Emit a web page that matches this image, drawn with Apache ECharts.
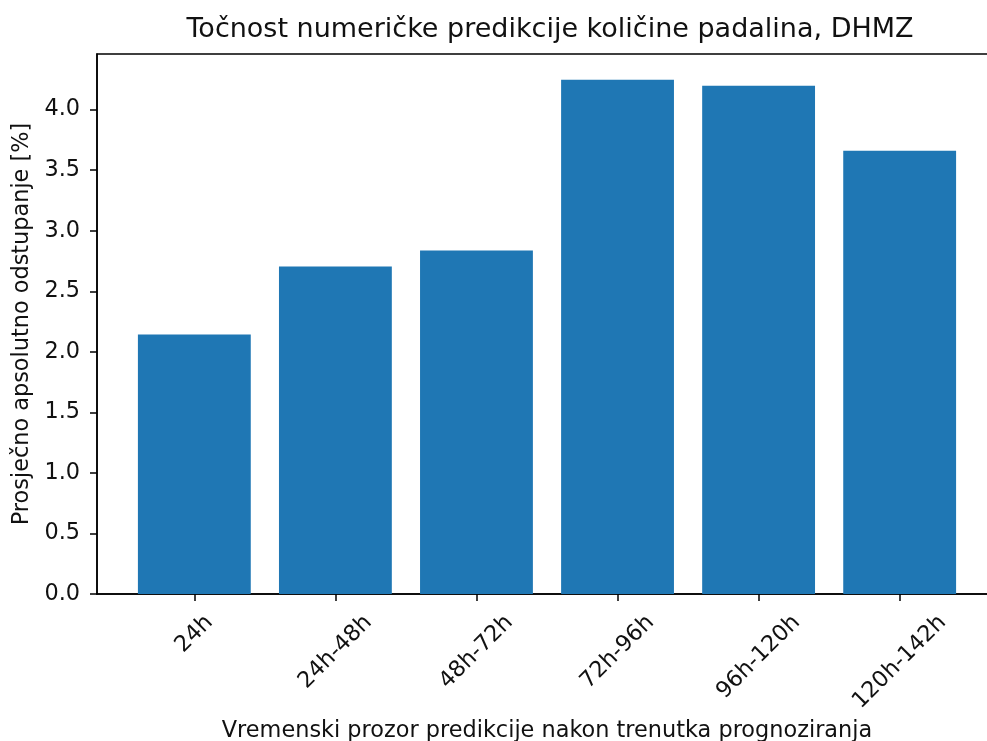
<!DOCTYPE html>
<html><head><meta charset="utf-8">
<script src="https://cdn.jsdelivr.net/npm/echarts@6/dist/echarts.min.js"></script>
<style>html,body{margin:0;padding:0;background:#fff}#c{width:987px;height:741px}</style>
</head><body><div id="c"></div>
<script>
const categories = ['24h', '24h-48h', '48h-72h', '72h-96h', '96h-120h', '120h-142h'];
const errorValues = [2.143, 2.704, 2.836, 4.247, 4.197, 3.661];
const yTicks = [0, 0.5, 1, 1.5, 2, 2.5, 3, 3.5, 4];
const xTicks = [0, 1, 2, 3, 4, 5];
const titleText = 'Točnost numeričke predikcije količine padalina, DHMZ';
const xName = 'Vremenski prozor predikcije nakon trenutka prognoziranja';
const yName = 'Prosječno apsolutno odstupanje [%]';

const FONT = 'DejaVu Sans';
const FS = 22.4;
const TXT = '#111';
const gridLeft = 97, gridTop = 54, gridRight = -10, gridBottom = 147;
const xMin = -0.69, xMax = 5.69;
const yMax = Math.max(...errorValues) * 1.05;
const plotW = 987 - gridLeft - gridRight;
const barW = plotW / (xMax - xMin) * 0.8;

const ctx = document.createElement('canvas').getContext('2d');
ctx.font = FS + 'px "DejaVu Sans"';
const rich = {};
categories.forEach((c, i) => {
  const w = ctx.measureText(c).width;
  rich['c' + i] = { fontFamily: FONT, fontSize: FS, color: TXT, padding: [w / 2, w / 2, 0, 0] };
});

const lineStyle = { color: '#000', width: 1.5 };
const chart = echarts.init(document.getElementById('c'), null, { renderer: 'canvas' });
chart.setOption({
  animation: false,
  backgroundColor: '#fff',
  title: {
    text: titleText, left: 545, top: 11, textAlign: 'center',
    textStyle: { fontFamily: FONT, fontSize: 27, fontWeight: 'normal', color: TXT }
  },
  grid: {
    left: gridLeft, top: gridTop, right: gridRight, bottom: gridBottom,
    show: true, borderColor: '#000', borderWidth: 1.5, backgroundColor: 'transparent',
    containLabel: false, outerBoundsMode: 'none'
  },
  xAxis: {
    type: 'value', min: xMin, max: xMax,
    name: xName, nameLocation: 'middle', nameGap: 122,
    nameTextStyle: { fontFamily: FONT, fontSize: FS, color: TXT },
    axisLine: { show: true, onZero: false, lineStyle },
    axisTick: { show: true, length: 7, customValues: xTicks, lineStyle },
    axisLabel: {
      customValues: xTicks, rotate: 45, align: 'center', verticalAlign: 'middle', margin: 25,
      hideOverlap: false,
      formatter: v => '{c' + v + '|' + categories[v] + '}', rich
    },
    splitLine: { show: false }
  },
  yAxis: {
    type: 'value', min: 0, max: yMax,
    name: yName, nameLocation: 'middle', nameGap: 64, nameRotate: 90,
    nameTextStyle: { fontFamily: FONT, fontSize: FS, color: TXT },
    axisLine: { show: true, onZero: false, lineStyle },
    axisTick: { show: true, length: 7, customValues: yTicks, lineStyle },
    axisLabel: {
      customValues: yTicks, formatter: v => v.toFixed(1), margin: 17,
      fontFamily: FONT, fontSize: FS, color: TXT
    },
    splitLine: { show: false }
  },
  series: [{
    type: 'bar',
    data: errorValues.map((v, i) => [i, v]),
    barWidth: barW,
    itemStyle: { color: '#1f77b4' }
  }]
});
</script>
</body></html>
